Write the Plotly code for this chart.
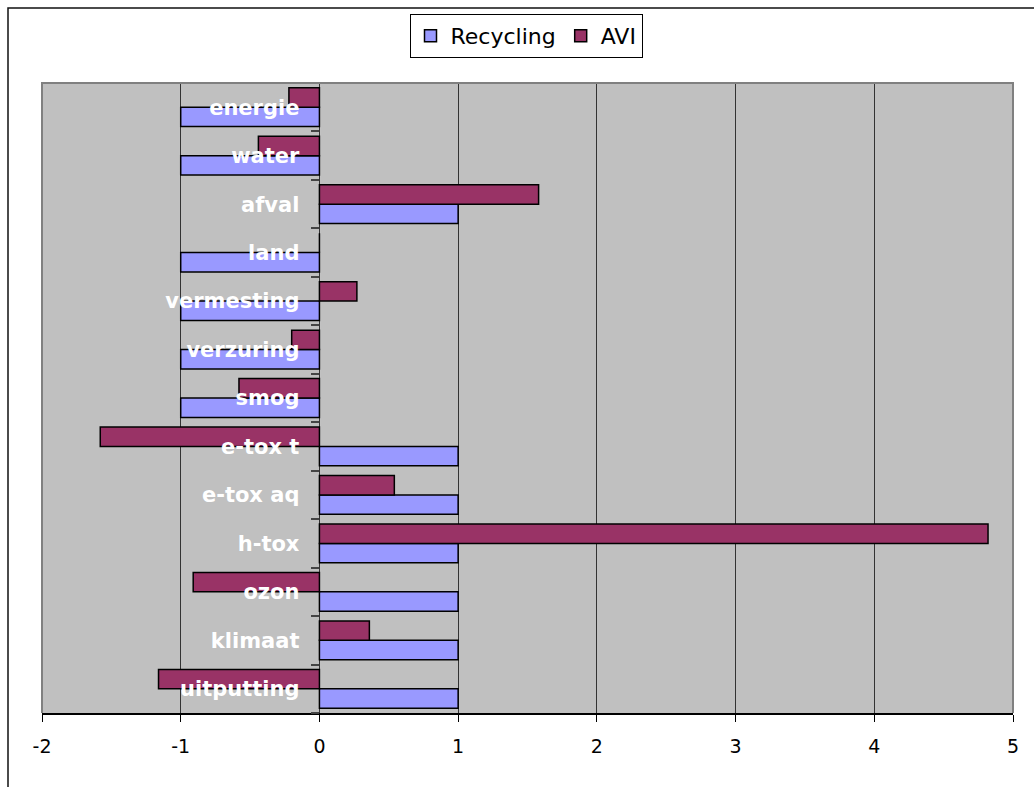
import plotly.graph_objects as go

# Categories, top to bottom as drawn
categories = ["energie", "water", "afval", "land", "vermesting", "verzuring", "smog",
              "e-tox t", "e-tox aq", "h-tox", "ozon", "klimaat", "uitputting"]
recycling = [-1, -1, 1, -1, -1, -1, -1, 1, 1, 1, 1, 1, 1]
avi = [-0.22, -0.44, 1.58, 0, 0.27, -0.2, -0.58, -1.58, 0.54, 4.82, -0.91, 0.36, -1.16]
x_ticks = [-2, -1, 0, 1, 2, 3, 4, 5]

W, H = 1034, 787
ML, MR, MT, MB = 42, 21, 83, 74
PW, PH = W - ML - MR, H - MT - MB

def px_x(p):
    return (p - ML) / PW

def px_y(p):
    return (H - MB - p) / PH

fig = go.Figure()
fig.add_trace(go.Bar(
    y=categories, x=recycling, orientation="h", name="Recycling",
    marker=dict(color="#9999FF", line=dict(color="#000000", width=1.5)),
))
fig.add_trace(go.Bar(
    y=categories, x=avi, orientation="h", name="AVI",
    marker=dict(color="#993366", line=dict(color="#000000", width=1.5)),
))

fig.update_layout(
    width=W, height=H,
    margin=dict(l=ML, r=MR, t=MT, b=MB, pad=0),
    paper_bgcolor="white",
    plot_bgcolor="#C0C0C0",
    barmode="group",
    bargap=0.2,
    bargroupgap=0,
    font=dict(family="DejaVu Sans", color="#000000"),
    legend=dict(
        orientation="h",
        x=px_x(526), xanchor="center",
        y=px_y(14), yanchor="top",
        bgcolor="white",
        bordercolor="#000000", borderwidth=1,
        font=dict(family="DejaVu Sans", size=22, color="#000000"),
        traceorder="normal",
        itemwidth=30,
    ),
    xaxis=dict(
        range=[-2, 5],
        tickvals=x_ticks,
        ticktext=[str(v) for v in x_ticks],
        showgrid=True, gridcolor="#333333", gridwidth=1,
        zeroline=True, zerolinecolor="#333333", zerolinewidth=1,
        showline=True, linecolor="#000000", linewidth=1.5,
        ticks="outside", ticklen=7, tickcolor="#000000", tickwidth=1,
        tickfont=dict(family="DejaVu Sans", size=19, color="#000000"),
        ticklabelstandoff=8,
        fixedrange=True,
    ),
    yaxis=dict(
        type="category",
        categoryorder="array",
        categoryarray=list(reversed(categories)),
        range=[-0.5, len(categories) - 0.5],
        anchor="free",
        position=2 / 7,
        showgrid=False, zeroline=False, showline=False,
        ticks="outside", tickson="boundaries", ticklen=8,
        tickcolor="#444444", tickwidth=1.5,
        tickfont=dict(family="DejaVu Sans", size=21, color="#FFFFFF", weight="bold"),
        ticklabelstandoff=20,
        layer="above traces",
        fixedrange=True,
    ),
    shapes=[
        # plot area border (left, top, right) in gray
        dict(type="path", xref="paper", yref="paper",
             path="M 0 0 L 0 1 L 1 1 L 1 0",
             line=dict(color="#808080", width=2), layer="above"),
        # outer chart frame (left and top visible)
        dict(type="path", xref="paper", yref="paper",
             path=f"M {px_x(8)} {px_y(800)} L {px_x(8)} {px_y(8)} L {px_x(1050)} {px_y(8)}",
             line=dict(color="#111111", width=1.5), layer="above"),
    ],
)

fig.write_html("out.html")
